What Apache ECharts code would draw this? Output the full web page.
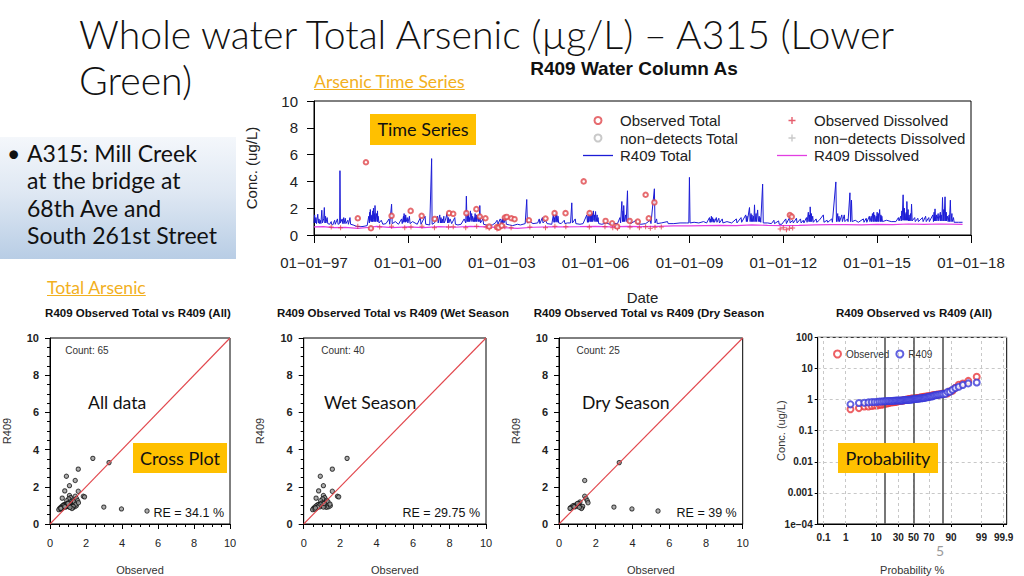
<!DOCTYPE html>
<html>
<head>
<meta charset="utf-8">
<script src="https://cdn.jsdelivr.net/npm/echarts@6/dist/echarts.min.js"></script>
<style>
html,body{margin:0;padding:0;background:#fff;width:1024px;height:576px;overflow:hidden;}
#chart{position:absolute;left:0;top:0;width:1024px;height:576px;}
.ov{position:absolute;white-space:nowrap;z-index:5;}
.title{left:79px;top:11px;font-family:Lato,"Open Sans",sans-serif;font-weight:300;font-size:39.2px;line-height:46px;color:#111;}
.link{font-family:Lato,"Open Sans",sans-serif;font-size:17.6px;line-height:20px;color:#F2B01E;text-decoration:underline;}
.box{left:0;top:137px;width:236px;height:122px;background:linear-gradient(to bottom,#f4f7fb 0%,#dfe8f3 45%,#b8cde5 100%);z-index:4;}
.bul{left:27px;top:140px;font-family:Lato,"Open Sans",sans-serif;font-size:23px;line-height:27.4px;color:#111;}
.dot{left:7px;top:140px;font-family:Lato,"Open Sans",sans-serif;font-size:23px;line-height:27.4px;color:#111;}
.tag{background:#FFC000;font-family:Lato,"Open Sans",sans-serif;font-size:18px;color:#111;text-align:center;}
.lbl{font-family:Lato,"Open Sans",sans-serif;font-size:17.6px;line-height:20px;color:#111;}
</style>
</head>
<body>
<div id="chart"></div>
<div class="ov title">Whole water Total Arsenic (µg/L) – A315 (Lower<br>Green)</div>
<div class="ov link" style="left:314px;top:72px;">Arsenic Time Series</div>
<div class="ov box"></div>
<div class="ov dot" style="z-index:6">•</div>
<div class="ov bul" style="z-index:6">A315: Mill Creek<br>at the bridge at<br>68th Ave and<br>South 261st Street</div>
<div class="ov link" style="left:47px;top:278px;">Total Arsenic</div>
<div class="ov tag" style="left:370px;top:114px;width:106px;height:31px;line-height:31px;">Time Series</div>
<div class="ov tag" style="left:133px;top:443px;width:94px;height:30px;line-height:30px;">Cross Plot</div>
<div class="ov tag" style="left:838px;top:443px;width:100px;height:30px;line-height:30px;">Probability</div>
<div class="ov lbl" style="left:88px;top:393px;">All data</div>
<div class="ov lbl" style="left:324px;top:393px;">Wet Season</div>
<div class="ov lbl" style="left:582px;top:393px;">Dry Season</div>
<div class="ov" style="left:936px;top:542px;font-family:Lato,sans-serif;font-size:14px;color:#9a9a9a;">5</div>
<script>
// ---------------- DATA ----------------
// Time series: [decimal year, ug/L]
const r409Total = [
[1997.00,0.9],[1997.02,1.5],[1997.04,0.9],[1997.06,1.3],[1997.08,0.85],[1997.12,1.55],[1997.14,0.9],[1997.20,1.1],[1997.22,0.85],[1997.25,1.85],[1997.27,0.9],[1997.31,1.2],[1997.33,2.05],[1997.35,0.9],[1997.42,1.3],[1997.44,0.85],[1997.50,0.8],[1997.60,0.75],[1997.66,1.1],[1997.68,0.8],[1997.75,1.2],[1997.77,0.8],[1997.82,0.85],[1997.83,4.8],[1997.845,0.9],[1997.90,1.2],[1997.92,0.85],[1998.00,1.25],[1998.02,0.85],[1998.08,1.1],[1998.10,0.8],[1998.15,1.3],[1998.17,0.8],[1998.25,0.75],[1998.35,0.65],[1998.50,0.62],[1998.60,0.65],[1998.70,0.7],
[1998.75,1.4],[1998.77,0.9],[1998.80,1.9],[1998.82,1.1],[1998.85,1.5],[1998.87,1.0],[1998.90,2.0],[1998.92,1.2],[1998.95,2.2],[1998.97,1.0],[1999.00,1.6],[1999.02,1.0],[1999.05,1.4],[1999.08,0.9],[1999.15,1.1],[1999.20,0.8],[1999.30,0.85],[1999.40,1.2],[1999.42,0.8],[1999.48,2.3],[1999.50,0.85],[1999.60,1.0],[1999.70,0.8],[1999.80,1.2],[1999.82,0.85],[1999.88,1.6],[1999.90,1.0],[1999.93,1.5],[1999.95,1.0],[1999.98,1.3],[2000.00,0.9],[2000.05,1.4],[2000.07,0.85],[2000.15,1.0],[2000.30,0.8],[2000.40,1.3],[2000.42,0.8],[2000.55,1.4],[2000.57,0.8],[2000.70,0.75],[2000.76,5.7],[2000.775,0.8],[2000.85,0.9],[2000.95,1.4],[2000.97,0.9],[2001.02,1.5],[2001.04,0.9],[2001.10,1.2],[2001.12,0.9],[2001.20,1.1],[2001.25,1.6],[2001.27,0.9],[2001.35,1.2],[2001.40,0.85],[2001.50,1.3],[2001.52,0.8],[2001.60,0.75],[2001.70,0.8],[2001.80,1.2],[2001.85,0.9],[2001.87,2.9],[2001.89,1.0],[2001.93,1.6],[2001.95,1.0],[2002.00,1.8],[2002.02,1.1],[2002.07,1.4],[2002.10,1.0],[2002.15,1.6],[2002.17,1.0],[2002.22,1.4],[2002.25,1.0],[2002.30,2.2],[2002.32,0.9],[2002.40,1.2],[2002.42,0.8],[2002.50,0.75],[2002.60,0.7],[2002.70,0.75],[2002.80,0.9],[2002.85,1.1],[2002.90,0.8],[2002.95,1.2],[2003.00,0.85],[2003.05,1.3],[2003.07,0.9],[2003.12,1.25],[2003.15,0.8],[2003.25,0.75],[2003.35,0.7],[2003.50,0.8],[2003.60,0.75],[2003.75,0.85],[2003.80,2.65],[2003.82,0.9],[2003.90,1.0],[2004.00,0.85],[2004.15,0.9],[2004.20,1.2],[2004.22,0.85],[2004.30,1.3],[2004.32,0.9],[2004.40,1.1],[2004.45,0.85],[2004.60,0.8],[2004.65,1.5],[2004.67,0.95],[2004.72,1.7],[2004.74,1.0],[2004.80,1.4],[2004.82,0.9],[2004.90,0.85],[2005.00,1.1],[2005.02,0.85],[2005.10,0.9],[2005.20,0.9],[2005.24,2.4],[2005.26,0.9],[2005.35,1.2],[2005.37,0.85],[2005.50,0.8],[2005.60,0.85],[2005.72,1.5],[2005.74,0.95],[2005.80,1.7],[2005.82,1.0],[2005.86,1.6],[2005.88,1.0],[2005.93,1.8],[2005.95,1.1],[2006.00,1.75],[2006.02,1.0],[2006.08,1.3],[2006.10,0.85],[2006.20,0.8],[2006.35,0.9],[2006.45,0.8],[2006.55,0.85],[2006.70,0.85],[2006.78,1.3],[2006.80,0.9],[2006.84,2.5],[2006.86,1.0],[2006.90,2.2],[2006.92,1.0],[2006.96,1.5],[2006.98,1.0],[2007.02,3.3],[2007.04,0.95],[2007.10,1.2],[2007.12,0.85],[2007.30,1.1],[2007.32,0.85],[2007.45,0.8],[2007.60,0.85],[2007.75,1.1],[2007.77,0.85],[2007.88,3.45],[2007.90,0.9],[2007.95,1.2],[2007.97,0.85],[2008.10,0.9],[2008.30,1.0],[2008.32,0.85],[2008.50,0.85],[2008.70,0.9],[2008.90,0.9],
[2008.98,0.9],[2009.00,4.3],[2009.02,0.9],[2009.15,0.95],[2009.30,0.9],[2009.45,1.0],[2009.55,0.9],[2009.64,1.3],[2009.66,0.95],[2009.70,1.4],[2009.72,1.0],[2009.78,1.2],[2009.80,0.95],[2009.86,1.3],[2009.88,0.95],[2009.94,1.25],[2009.96,0.9],[2010.05,1.2],[2010.07,0.9],[2010.20,1.0],[2010.35,0.9],[2010.50,1.2],[2010.52,0.9],[2010.65,1.3],[2010.67,0.95],[2010.80,1.5],[2010.82,1.0],[2010.92,2.05],[2010.94,1.0],[2011.00,1.5],[2011.02,1.0],[2011.08,2.25],[2011.10,1.0],[2011.18,1.87],[2011.20,1.0],[2011.26,1.3],[2011.28,0.95],[2011.34,3.8],[2011.36,0.9],[2011.50,0.9],[2011.62,0.85],[2011.70,1.1],[2011.72,0.85],[2011.85,1.05],[2011.87,0.8],[2011.95,0.8],[2012.08,1.2],[2012.10,0.85],[2012.20,1.3],[2012.22,0.9],[2012.30,1.1],[2012.32,0.9],[2012.42,1.25],[2012.44,0.9],[2012.55,1.2],[2012.57,0.9],[2012.64,1.1],[2012.66,0.9],[2012.74,1.3],[2012.76,0.95],[2012.80,1.7],[2012.82,1.0],[2012.86,2.1],[2012.88,1.0],[2012.94,1.4],[2012.96,0.95],[2013.05,1.2],[2013.07,0.95],[2013.15,1.1],[2013.28,1.5],[2013.30,0.95],[2013.40,1.1],[2013.42,0.95],[2013.55,1.2],[2013.57,0.95],[2013.68,3.96],[2013.70,1.0],[2013.78,1.4],[2013.80,1.0],[2013.87,1.5],[2013.89,1.0],[2013.95,1.5],[2013.97,1.0],[2014.05,1.2],[2014.07,1.0],[2014.13,3.15],[2014.15,1.0],[2014.18,2.6],[2014.20,1.0],[2014.30,1.1],[2014.40,0.95],[2014.56,1.2],[2014.58,0.95],[2014.65,1.25],[2014.67,0.95],[2014.75,1.4],[2014.77,1.0],[2014.85,1.6],[2014.87,1.0],[2014.92,1.5],[2014.94,1.0],[2015.00,1.7],[2015.02,1.0],[2015.08,1.9],[2015.10,1.0],[2015.15,1.4],[2015.17,1.0],[2015.30,1.1],[2015.45,1.0],[2015.60,1.0],[2015.68,1.3],[2015.70,1.05],[2015.75,1.4],[2015.77,1.05],[2015.83,3.0],[2015.85,1.1],[2015.89,1.6],[2015.91,1.1],[2015.95,2.5],[2015.97,1.1],[2016.02,1.5],[2016.04,1.05],[2016.10,2.3],[2016.12,1.05],[2016.20,1.3],[2016.22,1.0],[2016.30,1.25],[2016.32,1.0],[2016.45,1.3],[2016.47,1.0],[2016.55,1.4],[2016.57,1.0],[2016.65,1.3],[2016.67,1.0],[2016.78,1.5],[2016.80,1.0],[2016.85,1.95],[2016.87,1.05],[2016.95,1.6],[2016.97,1.05],[2017.05,1.5],[2017.07,1.05],[2017.09,2.8],[2017.11,1.05],[2017.17,2.85],[2017.19,1.05],[2017.25,1.4],[2017.27,1.0],[2017.34,2.6],[2017.36,1.0],[2017.44,1.3],[2017.46,0.95],[2017.60,0.95],[2017.73,0.95]
];
const r409TotalSpikes = [
[1997.16,1.2],[1997.17,0.85],[1997.37,1.4],[1997.38,0.9],[1997.55,1.0],[1997.56,0.8],[1997.95,1.3],[1997.96,0.85],[1998.78,1.7],[1998.79,1.0],[1998.83,1.4],[1998.84,1.0],[1998.88,1.8],[1998.89,1.0],[1998.93,1.6],[1998.94,1.0],[1999.03,1.8],[1999.04,1.0],[1999.86,1.4],[1999.87,0.95],[1999.91,1.3],[1999.92,0.95],[2001.06,1.3],[2001.07,0.9],[2001.15,1.4],[2001.16,0.9],[2001.30,1.3],[2001.31,0.9],[2001.91,1.5],[2001.92,1.0],[2001.97,1.3],[2001.98,1.0],[2002.04,1.6],[2002.05,1.0],[2002.12,1.3],[2002.13,1.0],[2002.19,1.5],[2002.20,1.0],[2002.27,1.3],[2002.28,1.0],[2002.87,1.0],[2002.88,0.8],[2002.97,1.1],[2002.98,0.85],[2003.02,1.2],[2003.03,0.85],[2004.69,1.3],[2004.70,0.95],[2004.76,1.5],[2004.77,0.95],[2005.76,1.4],[2005.77,0.95],[2005.84,1.5],[2005.85,1.0],[2005.90,1.6],[2005.91,1.0],[2005.97,1.5],[2005.98,1.0],[2006.05,1.5],[2006.06,1.0],[2006.88,1.8],[2006.89,1.0],[2009.68,1.2],[2009.69,0.95],[2009.74,1.3],[2009.76,0.95],[2010.84,1.4],[2010.85,1.0],[2010.97,1.6],[2010.98,1.0],[2011.05,1.4],[2011.06,1.0],[2011.13,1.6],[2011.14,1.0],[2011.23,1.4],[2011.24,1.0],[2012.84,1.5],[2012.85,1.0],[2012.90,1.6],[2012.91,1.0],[2013.74,1.6],[2013.75,1.0],[2014.81,1.4],[2014.82,1.0],[2014.89,1.7],[2014.90,1.0],[2014.97,1.4],[2014.98,1.0],[2015.04,1.6],[2015.05,1.0],[2015.12,1.5],[2015.13,1.0],[2015.79,1.8],[2015.80,1.1],[2015.87,2.0],[2015.88,1.1],[2015.93,1.7],[2015.94,1.1],[2015.99,1.9],[2016.00,1.05],[2016.07,1.6],[2016.08,1.05],[2016.82,1.7],[2016.83,1.05],[2016.90,1.5],[2016.91,1.05],[2017.02,1.7],[2017.03,1.05],[2017.13,1.9],[2017.14,1.05],[2017.21,1.7],[2017.22,1.05],[2017.30,1.5],[2017.31,1.0],[2017.39,1.6],[2017.40,1.0]
];
const r409Dissolved = [
[1997.0,0.6],[1997.3,0.62],[1997.6,0.55],[1998.0,0.57],[1998.4,0.5],[1998.8,0.58],[1999.0,0.65],[1999.5,0.55],[2000.0,0.6],[2000.5,0.55],[2001.0,0.62],[2001.5,0.58],[2002.0,0.65],[2002.5,0.6],[2003.0,0.55],[2003.5,0.5],[2004.0,0.58],[2004.5,0.6],[2005.0,0.6],[2005.5,0.62],[2006.0,0.65],[2006.5,0.6],[2007.0,0.65],[2007.5,0.62],[2008.0,0.65],[2008.5,0.68],[2009.0,0.68],[2009.5,0.7],[2010.0,0.72],[2010.5,0.7],[2011.0,0.75],[2011.5,0.72],[2012.0,0.7],[2012.5,0.72],[2013.0,0.75],[2013.5,0.78],[2014.0,0.78],[2014.5,0.75],[2015.0,0.8],[2015.5,0.78],[2016.0,0.82],[2016.5,0.8],[2017.0,0.82],[2017.73,0.8]
];
const observedTotal = [
[1998.40,1.25],[1998.66,5.43],[1998.82,0.5],[1999.48,1.43],[2000.09,1.8],[2000.44,1.43],[2000.86,1.2],[2001.32,1.63],[2001.45,1.58],[2001.87,1.63],[2002.19,1.93],[2002.30,1.38],[2002.48,1.25],[2002.60,0.63],[2002.85,0.6],[2002.90,0.55],[2003.00,0.7],[2003.10,1.3],[2003.16,1.35],[2003.31,1.25],[2003.41,1.18],[2003.87,1.1],[2004.40,1.23],[2004.69,1.63],[2005.04,1.63],[2005.62,4.0],[2005.81,1.63],[2006.32,1.05],[2006.53,0.88],[2006.69,0.63],[2007.09,1.05],[2007.35,1.0],[2007.60,3.0],[2007.70,1.25],[2007.88,2.43],[2012.21,1.49],[2012.27,1.37]
];
const observedDissolved = [
[1997.55,0.6],[1997.85,0.55],[1998.40,0.65],[1998.82,0.5],[1999.10,0.6],[1999.48,0.65],[1999.90,0.55],[2000.10,0.6],[2000.45,0.65],[2000.85,0.55],[2001.30,0.6],[2001.45,0.62],[2001.85,0.55],[2002.20,0.65],[2002.50,0.6],[2002.60,0.5],[2002.85,0.45],[2002.90,0.55],[2003.10,0.62],[2003.30,0.55],[2003.90,0.6],[2004.40,0.55],[2004.70,0.65],[2005.05,0.62],[2005.80,0.6],[2006.30,0.62],[2006.55,0.55],[2006.70,0.5],[2007.10,0.6],[2007.40,0.55],[2007.60,0.62],[2007.75,0.5],[2007.90,0.58],[2008.10,0.6],[2011.90,0.45],[2012.00,0.55],[2012.10,0.4],[2012.20,0.5],[2012.30,0.52]
];
const nonDetectsTotal = [];
const nonDetectsDissolved = [];
const tsStartYear = 1997, tsEndYear = 2018, tsTickStep = 3;

// Cross plots: [observed, R409]
const wetPairs = [
[2.38,3.53],[1.57,2.95],[0.91,2.57],[1.08,2.06],[0.82,1.78],[1.57,1.76],[0.68,1.39],[1.85,1.49],[1.92,1.46],[1.08,1.53],[1.15,1.42],[1.26,1.28],[1.23,1.18],[1.04,1.35],[0.93,1.25],[1.0,1.12],[0.86,1.05],[0.75,1.02],[0.80,1.04],[0.68,0.97],[0.60,0.9],[0.53,0.83],[0.49,0.77],[0.62,0.79],[0.71,0.86],[0.9,0.93],[0.99,1.02],[1.1,0.98],[1.19,0.93],[1.26,0.9],[1.37,0.93],[1.46,0.98],[1.08,0.91],[0.93,1.07],[1.33,1.2],[0.84,0.97],[0.77,0.9],[0.64,0.86],[1.44,1.07],[1.12,1.1]
];
const dryPairs = [
[3.28,3.30],[1.40,2.34],[2.99,0.91],[3.97,0.81],[5.39,0.70],[1.40,1.49],[1.47,1.37],[1.54,1.25],[1.58,1.14],[1.14,1.18],[1.07,1.11],[0.96,1.05],[0.83,1.0],[0.74,0.97],[0.64,0.88],[0.60,0.84],[0.89,0.93],[1.04,0.98],[1.18,0.93],[1.25,0.88],[1.29,0.95],[1.22,0.83],[1.11,0.9],[0.82,0.93],[1.0,1.1]
];
const crossTitles = ['R409 Observed Total vs R409 (All)','R409 Observed Total vs R409 (Wet Season','R409 Observed Total vs R409 (Dry Season'];
const crossCounts = ['Count: 65','Count: 40','Count: 25'];
const crossRE = ['RE = 34.1 %','RE = 29.75 %','RE = 39 %'];
const crossTicks = [0,10,2];
const diagonal = [0,10];

// Probability plot
const probTickLabels = [0.1,1,10,30,50,70,90,99,99.9];
const probRefLines = [15.87,50,84.13];
const probLimits = [0.05,99.93];
const concLimits = [0.0001,100];

// ---------------- HELPERS ----------------
function qnorm(p){
 const a=[-3.969683028665376e+01,2.209460984245205e+02,-2.759285104469687e+02,1.383577518672690e+02,-3.066479806614716e+01,2.506628277459239e+00];
 const b=[-5.447609879822406e+01,1.615858368580409e+02,-1.556989798598866e+02,6.680131188771972e+01,-1.328068155288572e+01];
 const c=[-7.784894002430293e-03,-3.223964580411365e-01,-2.400758277161838e+00,-2.549732539343734e+00,4.374664141464968e+00,2.938163982698783e+00];
 const d=[7.784695709101462e-03,3.224671290700398e-01,2.445134137142996e+00,3.754408661907416e+00];
 const pl=0.02425, ph=1-pl; let q,r;
 if(p<pl){q=Math.sqrt(-2*Math.log(p));return (((((c[0]*q+c[1])*q+c[2])*q+c[3])*q+c[4])*q+c[5])/((((d[0]*q+d[1])*q+d[2])*q+d[3])*q+1);}
 if(p<=ph){q=p-0.5;r=q*q;return (((((a[0]*r+a[1])*r+a[2])*r+a[3])*r+a[4])*r+a[5])*q/(((((b[0]*r+b[1])*r+b[2])*r+b[3])*r+b[4])*r+1);}
 q=Math.sqrt(-2*Math.log(1-p));return -(((((c[0]*q+c[1])*q+c[2])*q+c[3])*q+c[4])*q+c[5])/((((d[0]*q+d[1])*q+d[2])*q+d[3])*q+1);
}
const ts = arr => arr.map(p => [p[0]-tsStartYear, p[1]]);
const r409TotalAll = r409Total.concat(r409TotalSpikes).sort((a,b)=>a[0]-b[0]);
const allPairs = wetPairs.concat(dryPairs);
const n = allPairs.length;
const obsSorted = allPairs.map(p=>p[0]).sort((x,y)=>x-y);
const modSorted = allPairs.map(p=>p[1]).sort((x,y)=>x-y);
const zPos = obsSorted.map((v,i)=>qnorm((i+1)/(n+1)));
const probObs = obsSorted.map((v,i)=>[zPos[i],v]);
const probMod = modSorted.map((v,i)=>[zPos[i],v]);
const probTickZ = probTickLabels.map(p=>qnorm(p/100));
function probLabel(z){let best=0;probTickZ.forEach((t,i)=>{if(Math.abs(t-z)<Math.abs(probTickZ[best]-z))best=i;});return String(probTickLabels[best]);}
function logLabel(v){const e=Math.round(Math.log10(v));if(e<=-4)return '1e\u22120'+(-e);if(e<0)return '0.'+'0'.repeat(-e-1)+'1';return String(Math.pow(10,e));}

const FONT='"Liberation Sans", Arial, sans-serif';
const BLK='#000';
const RED='#e2474d';
const plusPath='path://M4,0 L6,0 L6,4 L10,4 L10,6 L6,6 L6,10 L4,10 L4,6 L0,6 L0,4 L4,4 Z';
const lineIcon='path://M0,0 L30,0 L30,1.3 L0,1.3 Z';

// ---------------- LAYOUT ----------------
const grids = [
 {left:314, top:101, width:657, height:134},
 {left:47.7, top:338, width:182.3, height:189.7},
 {left:303.7, top:338, width:182.3, height:189.7},
 {left:559, top:338, width:183.7, height:189.7},
 {left:817.7, top:337.3, width:189, height:190.4}
];
const gridOpts = grids.map(g=>Object.assign({show:true, borderColor:BLK, borderWidth:1, backgroundColor:'transparent', containLabel:false}, g));

const xAxes = [];
const yAxes = [];
xAxes.push({type:'value', gridIndex:0, min:0, max:tsEndYear-tsStartYear, interval:tsTickStep,
 axisLine:{onZero:false,lineStyle:{color:BLK}}, axisTick:{length:8,lineStyle:{color:BLK}},
 minorTick:{show:true,splitNumber:3,length:3,lineStyle:{color:'#333'}},
 axisLabel:{formatter:v=>'01\u221201\u2212'+String((tsStartYear+v)%100).padStart(2,'0'),fontSize:15,color:'#222',fontFamily:FONT,margin:20},
 splitLine:{show:false}, name:'Date', nameLocation:'middle', nameGap:55, nameMoveOverlap:false, nameTextStyle:{fontSize:15,color:'#222',fontFamily:FONT}});
yAxes.push({type:'value', gridIndex:0, min:0, max:10, interval:2,
 axisLine:{show:true,lineStyle:{color:BLK}}, axisTick:{show:true,length:7,lineStyle:{color:BLK}},
 axisLabel:{fontSize:15,color:'#222',fontFamily:FONT,margin:16}, splitLine:{show:false},
 name:'Conc. (ug/L)', nameLocation:'middle', nameGap:55, nameMoveOverlap:false, nameTextStyle:{fontSize:15,color:'#222',fontFamily:FONT}});
for(let i=1;i<=3;i++){
 xAxes.push({type:'value', gridIndex:i, min:crossTicks[0], max:crossTicks[1], interval:crossTicks[2],
  axisLine:{onZero:false,lineStyle:{color:BLK}}, axisTick:{length:5,lineStyle:{color:BLK}},
  minorTick:{show:true,splitNumber:4,length:3,lineStyle:{color:BLK}},
  axisLabel:{fontSize:11,color:'#222',fontFamily:FONT,margin:13}, splitLine:{show:false},
  name:'Observed', nameLocation:'middle', nameGap:40, nameMoveOverlap:false, nameTextStyle:{fontSize:11,color:'#333',fontFamily:FONT}});
 yAxes.push({type:'value', gridIndex:i, min:crossTicks[0], max:crossTicks[1], interval:crossTicks[2],
  axisLine:{onZero:false,lineStyle:{color:BLK}}, axisTick:{length:5,lineStyle:{color:BLK}},
  minorTick:{show:true,splitNumber:4,length:3,lineStyle:{color:BLK}},
  axisLabel:{fontSize:11,fontWeight:'bold',color:'#222',fontFamily:FONT,margin:11}, splitLine:{show:false},
  name:'R409', nameLocation:'middle', nameGap:38, nameMoveOverlap:false, nameTextStyle:{fontSize:11,color:'#333',fontFamily:FONT}});
}
const zMin = qnorm(probLimits[0]/100), zMax = qnorm(probLimits[1]/100);
xAxes.push({type:'value', gridIndex:4, min:zMin, max:zMax,
 axisLine:{onZero:false,lineStyle:{color:BLK}},
 axisTick:{show:true,length:3,customValues:probTickZ,lineStyle:{color:BLK}},
 axisLabel:{customValues:probTickZ, formatter:v=>probLabel(v), fontSize:10, fontWeight:'bold', color:'#222', fontFamily:FONT, margin:8},
 splitLine:{show:false},
 name:'Probability %', nameLocation:'middle', nameGap:40, nameMoveOverlap:false, nameTextStyle:{fontSize:11,color:'#333',fontFamily:FONT}});
yAxes.push({type:'log', gridIndex:4, min:concLimits[0], max:concLimits[1], logBase:10,
 axisLine:{show:true,onZero:false,lineStyle:{color:BLK}}, axisTick:{length:3,lineStyle:{color:BLK}},
 axisLabel:{formatter:v=>logLabel(v), fontSize:10, fontWeight:'bold', color:'#222', fontFamily:FONT, margin:5},
 splitLine:{show:true,lineStyle:{color:'#c8c8c8',type:[3,3],width:1}},
 name:'Conc. (ug/L)', nameLocation:'middle', nameGap:31, nameMoveOverlap:false, nameTextStyle:{fontSize:11,color:'#333',fontFamily:FONT}});

const series = [];
series.push({name:'R409 Total', type:'line', xAxisIndex:0, yAxisIndex:0, data:ts(r409TotalAll), symbol:'none', color:'#1c1cd6', lineStyle:{color:'#1c1cd6',width:1}, itemStyle:{color:'#1c1cd6'}, silent:true, animation:false, z:2});
series.push({name:'R409 Dissolved', type:'line', xAxisIndex:0, yAxisIndex:0, data:ts(r409Dissolved), symbol:'none', color:'#e23ee2', lineStyle:{color:'#e23ee2',width:1.2}, itemStyle:{color:'#e23ee2'}, silent:true, animation:false, z:3});
series.push({name:'Observed Total', type:'scatter', xAxisIndex:0, yAxisIndex:0, data:ts(observedTotal), symbol:'emptyCircle', symbolSize:4.5, itemStyle:{color:'#e0474c',borderColor:'#e0474c',borderWidth:0.9}, animation:false, z:5});
series.push({name:'non\u2212detects Total', type:'scatter', xAxisIndex:0, yAxisIndex:0, data:nonDetectsTotal, symbol:'emptyCircle', symbolSize:5, itemStyle:{color:'#bbbbbb',borderColor:'#bbbbbb'}, animation:false});
series.push({name:'Observed Dissolved', type:'scatter', xAxisIndex:0, yAxisIndex:0, data:ts(observedDissolved), symbol:plusPath, symbolSize:5, itemStyle:{color:'#e0364a'}, animation:false, z:4});
series.push({name:'non\u2212detects Dissolved', type:'scatter', xAxisIndex:0, yAxisIndex:0, data:nonDetectsDissolved, symbol:plusPath, symbolSize:5, itemStyle:{color:'#bbbbbb'}, animation:false});
const crossSets = [allPairs, wetPairs, dryPairs];
crossSets.forEach((set,k)=>{
 series.push({type:'scatter', xAxisIndex:k+1, yAxisIndex:k+1, data:set, symbol:'circle', symbolSize:4.3, itemStyle:{color:'#9a9a9a',borderColor:'#111',borderWidth:1}, animation:false, z:3,
  markLine:{silent:true, symbol:'none', label:{show:false}, animation:false,
   data:[[{coord:[diagonal[0],diagonal[0]]},{coord:[diagonal[1],diagonal[1]]}]], lineStyle:{color:RED,type:'solid',width:1.1}}});
});
series.push({name:'Observed', type:'scatter', xAxisIndex:4, yAxisIndex:4, data:probObs, symbol:'emptyCircle', symbolSize:6, itemStyle:{color:'#e8383d',borderColor:'#e8383d',borderWidth:1}, animation:false, z:4,
 markLine:{silent:true, symbol:'none', label:{show:false}, animation:false,
  data:probTickZ.map(z=>({xAxis:z, lineStyle:{color:'#c8c8c8',type:[3,3],width:1}})).concat(probRefLines.map(p=>({xAxis:qnorm(p/100), lineStyle:{color:'#555',type:'solid',width:1.6}})))}});
series.push({name:'R409', type:'scatter', xAxisIndex:4, yAxisIndex:4, data:probMod, symbol:'emptyCircle', symbolSize:6, itemStyle:{color:'#3a3ad8',borderColor:'#3a3ad8',borderWidth:1}, animation:false, z:5});

const graphics = [];
graphics.push({type:'text', x:634, y:68, style:{text:'R409 Water Column As', font:'bold 19px '+FONT, fill:'#111', align:'center', verticalAlign:'middle'}});
const crossCenters = [138, 393, 649];
for(let k=0;k<3;k++){
 const g = grids[k+1];
 graphics.push({type:'text', x:crossCenters[k], y:313, style:{text:crossTitles[k], font:'bold 11.5px '+FONT, fill:'#111', align:'center', verticalAlign:'middle'}});
 graphics.push({type:'text', x:g.left+17.5, y:g.top+12, style:{text:crossCounts[k], font:'10px '+FONT, fill:'#333', align:'left', verticalAlign:'middle'}});
 graphics.push({type:'text', x:g.left+g.width-6, y:g.top+g.height-14.5, style:{text:crossRE[k], font:'12.5px '+FONT, fill:'#111', align:'right', verticalAlign:'middle'}});
}
graphics.push({type:'text', x:914, y:313, style:{text:'R409 Observed vs R409 (All)', font:'bold 11.5px '+FONT, fill:'#111', align:'center', verticalAlign:'middle'}});

const option = {
 animation:false,
 grid: gridOpts,
 xAxis: xAxes,
 yAxis: yAxes,
 series: series,
 graphic: graphics,
 legend: [
  {data:['Observed Total','non\u2212detects Total',{name:'R409 Total',icon:lineIcon}], orient:'vertical', left:578, top:108, itemWidth:30, itemHeight:7, itemGap:2.5, selectedMode:false, textStyle:{fontSize:15,color:'#222',fontFamily:FONT,padding:[0,0,0,2]}},
  {data:['Observed Dissolved','non\u2212detects Dissolved',{name:'R409 Dissolved',icon:lineIcon}], orient:'vertical', left:772, top:108, itemWidth:30, itemHeight:7, itemGap:2.5, selectedMode:false, textStyle:{fontSize:15,color:'#222',fontFamily:FONT,padding:[0,0,0,2]}},
  {data:['Observed','R409'], orient:'horizontal', left:828, top:344, itemWidth:7, itemHeight:7, itemGap:6, selectedMode:false, textStyle:{fontSize:10,color:'#333',fontFamily:FONT}}
 ]
};
const chart = echarts.init(document.getElementById('chart'), null, {renderer:'svg'});
chart.setOption(option);
</script>
</body>
</html>
